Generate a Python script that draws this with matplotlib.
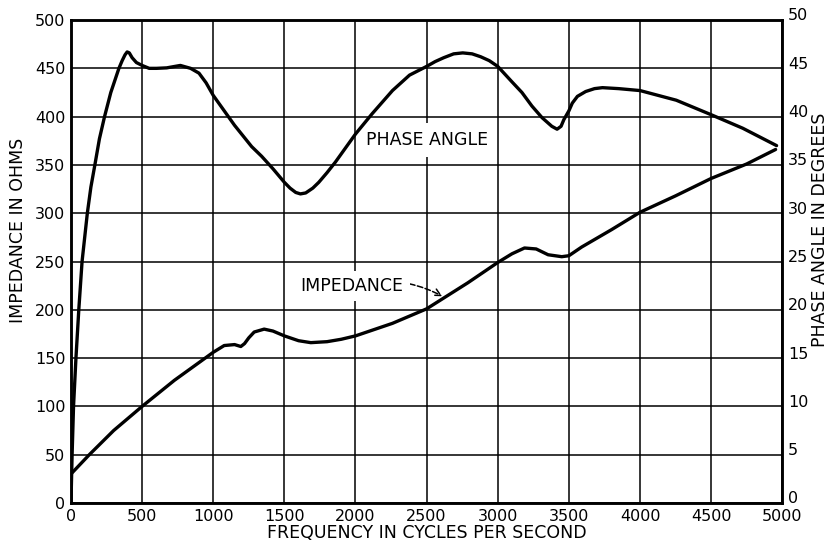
import matplotlib
matplotlib.use('Agg')
from matplotlib import pyplot as plt
import matplotlib.transforms as mtransforms
import numpy as np

# curves
phase_freq = [0, 8, 18, 35, 55, 78, 115, 140, 168, 200, 236, 280, 337, 360,
              380, 395, 410, 430, 460, 500, 550, 601, 673, 730, 769, 841, 900,
              950, 1000, 1150, 1270, 1340, 1420, 1500, 1540, 1580, 1613, 1650,
              1700, 1742, 1800, 1859, 2000, 2117, 2260, 2380, 2500, 2560, 2620,
              2690, 2754, 2820, 2880, 2940, 3000, 3050, 3100, 3170, 3240, 3311,
              3380, 3417, 3445, 3465, 3500, 3524, 3560, 3618, 3680, 3736, 3850,
              4000, 4255, 4500, 4722, 4960]
phase_deg = [0, 5, 10, 15, 20, 25, 30, 32.7, 35, 37.7, 40, 42.5, 45, 45.8,
             46.4, 46.7, 46.6, 46.1, 45.6, 45.3, 45.0, 45.0, 45.05, 45.2, 45.3,
             45.0, 44.5, 43.5, 42.2, 39.1, 36.9, 35.9, 34.6, 33.2, 32.6, 32.15,
             32.0, 32.1, 32.6, 33.2, 34.2, 35.3, 38.2, 40.3, 42.7, 44.3, 45.2,
             45.7, 46.1, 46.5, 46.6, 46.5, 46.2, 45.8, 45.2, 44.4, 43.6, 42.5,
             41.1, 39.9, 39.0, 38.7, 39.0, 39.7, 40.6, 41.4, 42.1, 42.6, 42.9,
             43.0, 42.9, 42.7, 41.7, 40.2, 38.8, 37.0]

imp_freq = [0, 129, 300, 500, 727, 1000, 1077, 1150, 1194, 1220, 1250, 1288,
            1358, 1420, 1500, 1600, 1686, 1800, 1900, 2000, 2260, 2500, 2790,
            3000, 3100, 3188, 3270, 3354, 3450, 3500, 3590, 3800, 4000, 4250,
            4500, 4750, 4953]
imp_ohm = [30, 50, 75, 100, 127, 156, 163, 164, 162, 165, 171, 177, 180, 178,
           173, 168, 166, 167, 169.5, 173, 186, 201, 228, 249, 258, 264, 263,
           257, 255, 256, 265, 283, 301, 318, 336, 351, 366]

freq_ticks = np.arange(0, 5001, 500)
ohm_ticks = np.arange(0, 501, 50)
deg_ticks = np.arange(0, 51, 5)

FS = 11.5   # tick labels
TFS = 12.5  # curve names
LFS = 12.5  # axis titles

fig = plt.figure(figsize=(8.3, 5.42), dpi=100)
ax = fig.add_axes([0.0855, 0.072, 0.857, 0.891])
ax2 = ax.twinx()

ax.set_xlim(0, 5000)
ax.set_ylim(0, 500)
ax2.set_ylim(0, 50)
ax.set_xticks(freq_ticks)
ax.set_yticks(ohm_ticks)
ax2.set_yticks(deg_ticks)
ax.grid(True, color='black', lw=1.1)
ax.set_axisbelow(True)

for a in (ax, ax2):
    for s in a.spines.values():
        s.set_linewidth(1.8)
        s.set_color('black')
    a.tick_params(length=0, pad=4, labelsize=FS)

# right-hand labels sit a little above their grid lines on the scan
up = mtransforms.ScaledTranslation(0, 4 / 72, fig.dpi_scale_trans)
for lab in ax2.get_yticklabels():
    lab.set_transform(lab.get_transform() + up)

ax.plot(imp_freq, imp_ohm, color='black', lw=2.4, solid_capstyle='round',
        solid_joinstyle='round', zorder=4)
ax2.plot(phase_freq, phase_deg, color='black', lw=2.4, solid_capstyle='round',
         solid_joinstyle='round', zorder=4)

ax2.text(2500, 37.6, 'PHASE ANGLE', fontsize=TFS, ha='center', va='center',
         bbox=dict(boxstyle='square,pad=0.45', fc='white', ec='none'), zorder=3)
ax.annotate('IMPEDANCE', xy=(2610, 214), xytext=(1975, 225), fontsize=TFS,
            ha='center', va='center', zorder=3,
            bbox=dict(boxstyle='square,pad=0.35', fc='white', ec='none'),
            arrowprops=dict(arrowstyle='->', ls='--', lw=1.1, color='black',
                            connectionstyle='arc3,rad=-0.2',
                            shrinkA=0, shrinkB=0))

ax.set_xlabel('FREQUENCY IN CYCLES PER SECOND', fontsize=LFS)
ax.set_ylabel('IMPEDANCE IN OHMS', fontsize=LFS)
ax2.set_ylabel('PHASE ANGLE IN DEGREES', fontsize=LFS)
ax.yaxis.set_label_coords(-0.062, 0.565)
ax2.yaxis.set_label_coords(1.040, 0.565)
ax.xaxis.set_label_coords(0.50, -0.043)

fig.savefig('out.png', dpi=100)
